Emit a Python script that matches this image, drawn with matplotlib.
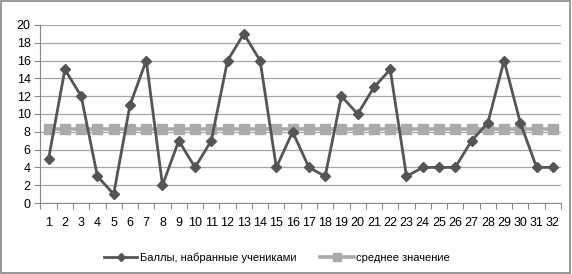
import matplotlib
matplotlib.use("Agg")
import matplotlib.pyplot as plt
from matplotlib.patches import Rectangle

# Баллы учеников и среднее значение
students = list(range(1, 33))
scores = [5, 15, 12, 3, 1, 11, 16, 2, 7, 4, 7, 16, 19, 16, 4, 8,
          4, 3, 12, 10, 13, 15, 3, 4, 4, 4, 7, 9, 16, 9, 4, 4]
mean_value = sum(scores) / len(scores)
mean_line = [mean_value] * len(students)
y_ticks = list(range(0, 21, 2))

label_scores = "Баллы, набранные учениками"
label_mean = "среднее значение"

plt.rcParams['font.family'] = ['Liberation Sans', 'DejaVu Sans']

fig = plt.figure(figsize=(5.72, 2.74), dpi=100)
ax = fig.add_axes([0.0708, 0.259, 0.910, 0.650])

ax.plot(students, mean_line, color='#aaaaaa', lw=2.6, marker='s', ms=7.5,
        mec='#aaaaaa', mfc='#aaaaaa', label=label_mean, zorder=3)
ax.plot(students, scores, color='#555555', lw=2, marker='D', ms=5.5,
        mec='#555555', mfc='#555555', label=label_scores, zorder=4)

ax.set_xlim(0.5, 32.5)
ax.set_ylim(0, 20)
ax.set_yticks(y_ticks)
ax.grid(axis='y', color='#a6a6a6', lw=0.9)
ax.set_axisbelow(True)

# ticks between categories, labels on categories
ax.set_xticks([i + 0.5 for i in range(0, 33)])
ax.set_xticklabels([])
ax.set_xticks(students, minor=True)
ax.set_xticklabels([str(s) for s in students], minor=True, fontsize=9)
ax.tick_params(axis='x', which='minor', length=0, pad=10)
ax.tick_params(axis='x', which='major', length=4, color='#888888')
ax.tick_params(axis='y', length=4, color='#888888', labelsize=9, pad=3)

for side in ['top', 'right']:
    ax.spines[side].set_visible(False)
for side in ['left', 'bottom']:
    ax.spines[side].set_color('#888888')

handles, labels = ax.get_legend_handles_labels()
fig.legend(handles[::-1], labels[::-1], loc='center', bbox_to_anchor=(0.484, 0.058),
           ncol=2, frameon=False, fontsize=8, handlelength=3,
           columnspacing=2.2, handletextpad=0.2, markerscale=0.7)

fig.patches.append(Rectangle((0.002, 0.004), 0.995, 0.991, transform=fig.transFigure,
                             fill=False, ec='#888888', lw=1.2))

fig.savefig("out.png", dpi=100)
